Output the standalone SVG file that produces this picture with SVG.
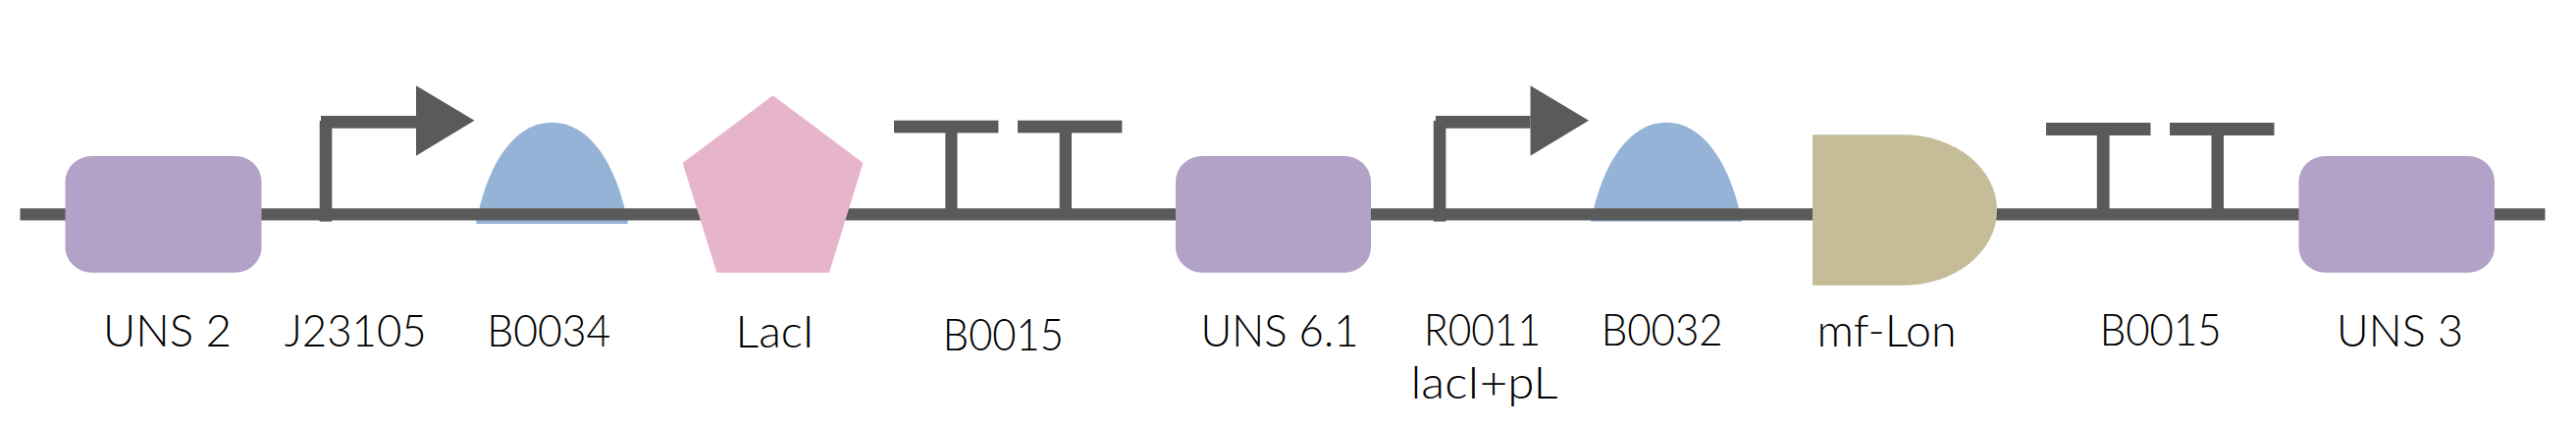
<svg xmlns="http://www.w3.org/2000/svg" width="2625" height="434" viewBox="0 0 2625 434">
<style>
.ink{fill:#5a5a5a}
.uns{fill:#b2a2c7}
.rbs{fill:#95b3d7}
.t{font-family:"Lato","Liberation Sans",sans-serif;font-weight:300;font-size:45px;fill:#000;text-anchor:middle}
</style>
<rect width="2625" height="434" fill="#fff"/>
<g id="rbs-b0034"><path class="rbs" d="M485 228C497 165 525 124.700 562.500 124.700C600 124.700 628 165 640 228Z"/><text class="t" x="559.300" y="353" textLength="126" lengthAdjust="spacingAndGlyphs">B0034</text></g>
<g id="rbs-b0032"><path class="rbs" d="M1621 225.700C1633 165 1661 124.700 1698 124.700C1735 124.700 1763 165 1775 225.700Z"/><text class="t" x="1693.700" y="352" textLength="124" lengthAdjust="spacingAndGlyphs">B0032</text></g>
<g id="connectors"><rect class="ink" x="20.500" y="212.300" width="2573" height="12.200"/></g>
<g id="uns-2"><rect class="uns" x="66.500" y="159" width="200" height="118.700" rx="27" ry="26"/><text class="t" x="170.500" y="353" textLength="131" lengthAdjust="spacingAndGlyphs">UNS 2</text></g>
<g id="promoter-j23105"><rect class="ink" x="325.700" y="123" width="12.600" height="102.700"/><rect class="ink" x="327" y="118" width="97" height="12.700"/><polygon class="ink" points="424,87.300 483.500,122.700 424,158.700"/><text class="t" x="362.200" y="353" textLength="145" lengthAdjust="spacingAndGlyphs">J23105</text></g>
<g id="cds-laci"><polygon points="787.600,97.300 879.500,166 845,277.700 730.400,277.700 695.600,166" fill="#e6b5cc"/><text class="t" x="789.600" y="354" textLength="80" lengthAdjust="spacingAndGlyphs">LacI</text></g>
<g id="terminator-1a"><rect class="ink" x="911" y="122.700" width="106.400" height="12.700"/><rect class="ink" x="963.300" y="130" width="12.200" height="85"/></g>
<g id="terminator-1b"><rect class="ink" x="1037" y="122.700" width="106.400" height="12.700"/><rect class="ink" x="1079.700" y="130" width="12.300" height="85"/><text class="t" x="1022.300" y="356.700" textLength="123" lengthAdjust="spacingAndGlyphs">B0015</text></g>
<g id="uns-6-1"><rect class="uns" x="1198" y="159" width="199" height="118.700" rx="27" ry="26"/><text class="t" x="1304" y="353" textLength="161" lengthAdjust="spacingAndGlyphs">UNS 6.1</text></g>
<g id="promoter-r0011"><rect class="ink" x="1460.800" y="123" width="12.600" height="102.700"/><rect class="ink" x="1463" y="118" width="96.500" height="12.700"/><polygon class="ink" points="1559.500,87.300 1619,122.700 1559.500,158.700"/><text class="t" x="1510.500" y="352" textLength="119" lengthAdjust="spacingAndGlyphs">R0011</text><text class="t" x="1512.500" y="405.700" textLength="150" lengthAdjust="spacingAndGlyphs">lacI+pL</text></g>
<g id="cds-mf-lon"><path d="M1847 137.300H1940A95 76.700 0 0 1 1940 290.700H1847Z" fill="#c4bd97"/><text class="t" x="1922.500" y="352.700" textLength="142" lengthAdjust="spacingAndGlyphs">mf-Lon</text></g>
<g id="terminator-2a"><rect class="ink" x="2085" y="125" width="106.500" height="13"/><rect class="ink" x="2136.800" y="132" width="12.800" height="83"/></g>
<g id="terminator-2b"><rect class="ink" x="2211" y="125" width="106.500" height="13"/><rect class="ink" x="2253.500" y="132" width="12.500" height="83"/><text class="t" x="2201.700" y="352" textLength="124" lengthAdjust="spacingAndGlyphs">B0015</text></g>
<g id="uns-3"><rect class="uns" x="2342.500" y="159" width="199.500" height="118.700" rx="27" ry="26"/><text class="t" x="2445.500" y="353" textLength="129" lengthAdjust="spacingAndGlyphs">UNS 3</text></g>
</svg>
